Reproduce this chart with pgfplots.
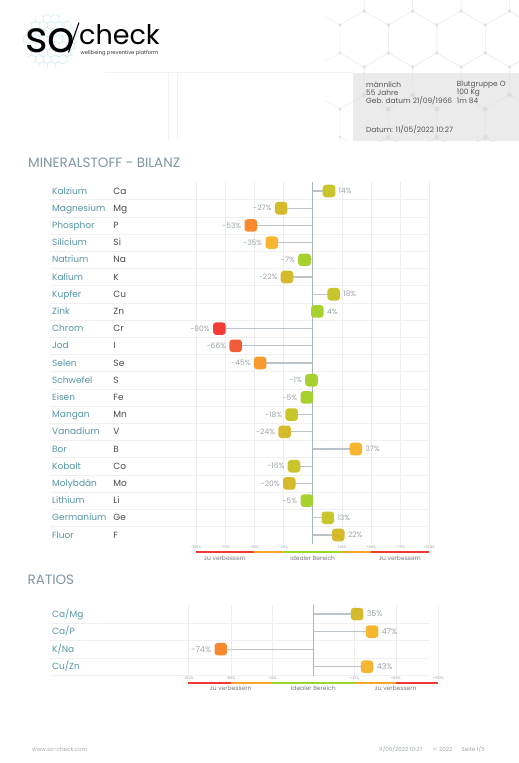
\documentclass[border=0pt]{standalone}
\usepackage{pgfplots}
\pgfplotsset{compat=1.18}
\usepackage{pgfplotstable}
\usepackage{fontspec}
\setmainfont{Poppins}

\definecolor{cteal}{HTML}{5595A4}
\definecolor{csym}{HTML}{4A4A4A}
\definecolor{cpct}{HTML}{9AA4AA}
\definecolor{cgrid}{HTML}{EDEDED}
\definecolor{csep}{HTML}{F0F0F0}
\definecolor{caxis}{HTML}{A9B5BD}
\definecolor{cstem}{HTML}{BAC4CA}
\definecolor{ctitle}{HTML}{7F97A3}
\definecolor{ctick}{HTML}{9A9A9A}
\definecolor{clab}{HTML}{7A7A7A}
\definecolor{cfoot}{HTML}{A0A8AD}
\definecolor{cinfo}{HTML}{555555}
\definecolor{mG}{HTML}{A6D12E}
\definecolor{mY}{HTML}{C9C62D}
\definecolor{mM}{HTML}{D4BB2B}
\definecolor{mA}{HTML}{F6B631}
\definecolor{mP}{HTML}{F89A2E}
\definecolor{mO}{HTML}{F7892E}
\definecolor{mR}{HTML}{F35A38}
\definecolor{mX}{HTML}{F23C35}
\definecolor{bR}{HTML}{F03A33}
\definecolor{bO}{HTML}{F6A52A}
\definecolor{bG}{HTML}{9ED42E}
\definecolor{hexl}{HTML}{F0F0F0}
\definecolor{hexd}{HTML}{E0E0E0}
\definecolor{boxg}{HTML}{EBEBEB}
\definecolor{logohex}{HTML}{D6EEF4}

\pgfdeclareplotmark{rsq}{%
  \pgfsetcornersarced{\pgfqpoint{3.2pt}{3.2pt}}%
  \pgfpathmoveto{\pgfqpoint{0pt}{-\pgfplotmarksize}}%
  \pgfpathlineto{\pgfqpoint{\pgfplotmarksize}{-\pgfplotmarksize}}%
  \pgfpathlineto{\pgfqpoint{\pgfplotmarksize}{\pgfplotmarksize}}%
  \pgfpathlineto{\pgfqpoint{-\pgfplotmarksize}{\pgfplotmarksize}}%
  \pgfpathlineto{\pgfqpoint{-\pgfplotmarksize}{-\pgfplotmarksize}}%
  \pgfpathclose
  \pgfusepath{fill}%
}

\pgfplotstableread{
y name sym v c
20 Kalzium Ca 14 Y
19 Magnesium Mg -27 M
18 Phosphor P -53 O
17 Silicium Si -35 A
16 Natrium Na -7 G
15 Kalium K -22 M
14 Kupfer Cu 18 Y
13 Zink Zn 4 G
12 Chrom Cr -80 X
11 Jod I -66 R
10 Selen Se -45 P
9 Schwefel S -1 G
8 Eisen Fe -5 G
7 Mangan Mn -18 Y
6 Vanadium V -24 M
5 Bor B 37 A
4 Kobalt Co -16 Y
3 Molybdän Mo -20 M
2 Lithium Li -5 G
1 Germanium Ge 13 Y
0 Fluor F 22 M
}\mainT

\pgfplotstableread{
y name v c
3 Ca/Mg 35 M
2 Ca/P 47 A
1 K/Na -74 O
0 Cu/Zn 43 A
}\ratT

\pgfplotsset{
  mcolors/.style={
    scatter, only marks, mark=rsq, mark size=6.3pt,
    point meta=explicit symbolic,
    scatter/@pre marker code/.code={\pgfscope\pgfsetfillcolor{m\pgfplotspointmeta}},
    scatter/@post marker code/.code={\endpgfscope}},
}

\begin{document}
\begin{tikzpicture}[x=1pt,y=1pt]
\path[use as bounding box, fill=white] (0,0) rectangle (519,-763);

% background honeycomb
\begin{scope}
\clip (325,0) rectangle (519,-141);
\foreach \cx/\cy in {364/-39, 412.5/-39, 461/-39, 509.5/-39, 340/-81, 388.25/-81, 436.75/-81, 485.25/-81, 533.5/-81, 340/3, 388.25/3, 436.75/3, 485.25/3, 533.5/3, 364/-123, 412.5/-123, 461/-123, 509.5/-123}{
  \draw[hexl, line width=0.5pt] (\cx,\cy) ++(90:28) -- ++(-30:28) -- ++(-90:28) -- ++(-150:28) -- ++(150:28) -- ++(90:28) -- cycle;
  \foreach \a in {90,30,-30,-90,-150,150}{\fill[hexd] (\cx,\cy) ++(\a:28) circle (1.5);}
}
\end{scope}
% info box
\fill[boxg] (353,-72.7) rectangle (519,-141);
\begin{scope}
\clip (353,-72.7) rectangle (519,-141);
\foreach \cx/\cy in {364/-39, 412.5/-39, 461/-39, 509.5/-39, 340/-81, 388.25/-81, 436.75/-81, 485.25/-81, 533.5/-81, 364/-123, 412.5/-123, 461/-123, 509.5/-123}{
  \draw[black!10, line width=0.5pt] (\cx,\cy) ++(90:28) -- ++(-30:28) -- ++(-90:28) -- ++(-150:28) -- ++(150:28) -- ++(90:28) -- cycle;
  \foreach \a in {90,30,-30,-90,-150,150}{\fill[black!13] (\cx,\cy) ++(\a:28) circle (2.2);}
}
\end{scope}
\draw[black!5, line width=0.5pt] (105,-72.7) -- (353,-72.7);
\draw[black!5, line width=0.5pt] (168,-72.7) -- (168,-141);
\draw[black!5, line width=0.5pt] (177,-72.7) -- (177,-141);

\begin{scope}[every node/.style={anchor=west, inner sep=0pt, font=\fontsize{7.4}{8}\selectfont, text=cinfo}]
\node at (366,-84.3) {männlich};
\node at (366,-92.7) {55 Jahre};
\node at (366,-100.9) {Geb. datum 21/09/1966};
\node at (366,-129.7) {Datum: 11/05/2022 10:27};
\node at (456.7,-84.3) {Blutgruppe O};
\node at (456.7,-92.7) {100 Kg};
\node at (456.7,-100.9) {1m 84};
\end{scope}

% logo
\begin{scope}
\clip (50,-41) circle (27);
\foreach \r in {0,...,9}{\foreach \c in {0,...,8}{
  \pgfmathsetmacro\hx{20+\c*7.8+mod(\r,2)*3.9}
  \pgfmathsetmacro\hy{-12-\r*6.75}
  \draw[logohex, line width=0.4pt] (\hx,\hy) ++(90:4.5) -- ++(-30:4.5) -- ++(-90:4.5) -- ++(-150:4.5) -- ++(150:4.5) -- ++(90:4.5) -- cycle;
}}
\end{scope}
\node[anchor=base west, inner sep=0pt, font=\fontsize{43}{43}\selectfont] at (25,-52.5) {so};
\draw[black, line width=1.1pt] (68.5,-52.5) -- (79,-22.5);
\node[anchor=base west, inner sep=0pt, font=\fontsize{27}{27}\selectfont] at (79,-44.3) {check};
\node[anchor=west, inner sep=0pt, font=\fontsize{5.2}{6}\selectfont, text=black!80] at (80.5,-53) {wellbeing preventive platform};

% titles
\node[anchor=west, inner sep=0pt, font=\fontsize{13.5}{14}\selectfont, text=ctitle] at (28,-163) {MINERALSTOFF - BILANZ};
\node[anchor=west, inner sep=0pt, font=\fontsize{13.5}{14}\selectfont, text=ctitle] at (27.5,-580) {RATIOS};

% footer
\begin{scope}[every node/.style={anchor=west, inner sep=0pt, font=\fontsize{5.6}{6}\selectfont, text=cfoot}]
\node at (32,-749.3) {www.so-check.com};
\node at (379,-749.3) {11/05/2022 10:27};
\node at (433,-749.3) {© 2022};
\node at (461.5,-749.3) {Seite 1/5};
\end{scope}

% ===== main chart =====
\begin{axis}[
  at={(196pt,-182.4pt)}, anchor=north west,
  scale only axis, width=233.33pt, height=361.2pt,
  xmin=-100, xmax=100, ymin=-0.5, ymax=20.5,
  clip=false,
  axis line style={draw=none},
  major tick length=0pt,
  xtick={-100,-75,-50,-25,0,25,50,75,100},
  xticklabels={-100\%,-75\%,-50\%,-25\%,{},+25\%,+50\%,+75\%,+100\%},
  xticklabel style={font=\fontsize{3.6}{4}\selectfont, text=ctick, anchor=center, inner sep=0pt, yshift=-3.7pt},
  xmajorgrids, grid style={cgrid, line width=0.6pt},
  ytick={0,...,20},
  yticklabel={\pgfmathtruncatemacro\rr{20-\ticknum}\pgfplotstablegetelem{\rr}{name}\of\mainT\makebox[61.3pt][l]{\textcolor{cteal}{\pgfplotsretval}}\pgfplotstablegetelem{\rr}{sym}\of\mainT\textcolor{csym}{\pgfplotsretval}},
  yticklabel style={anchor=base west, inner sep=0pt, xshift=-144pt, yshift=-3.1pt, font=\fontsize{9}{10}\selectfont},
]
\pgfplotsinvokeforeach{0,...,19}{\draw[csep, line width=0.6pt] (axis cs:-225.1,#1+0.5) -- (axis cs:100,#1+0.5);}
\draw[caxis, line width=1.2pt] (axis cs:0,-0.5) -- (axis cs:0,20.5);
\addplot[xcomb, cstem, line width=1.2pt] table[x=v, y=y]{\mainT};
\addplot[mcolors] table[x=v, y=y, meta=c]{\mainT};
\addplot[only marks, mark=none, point meta=x,
  nodes near coords={\pgfmathprintnumber[assume math mode=true]{\pgfplotspointmeta}\%},
  nodes near coords align=horizontal,
  every node near coord/.append style={font=\fontsize{7.5}{8}\selectfont, text=cpct, inner xsep=9.5pt, inner ysep=0pt}]
  table[x=v, y=y]{\mainT};
\addplot[bR, line width=2pt] coordinates {(-100,-1) (-50,-1)};
\addplot[bO, line width=2pt] coordinates {(-50,-1) (-25,-1)};
\addplot[bG, line width=2pt] coordinates {(-25,-1) (25,-1)};
\addplot[bO, line width=2pt] coordinates {(25,-1) (50,-1)};
\addplot[bR, line width=2pt] coordinates {(50,-1) (100,-1)};
\node[font=\fontsize{6}{7}\selectfont, text=clab] at (axis cs:-75,-1.36) {zu verbessern};
\node[font=\fontsize{6}{7}\selectfont, text=clab] at (axis cs:0,-1.36) {idealer Bereich};
\node[font=\fontsize{6}{7}\selectfont, text=clab] at (axis cs:75,-1.36) {zu verbessern};
\end{axis}

% ===== ratios =====
\begin{axis}[
  at={(188.3pt,-605.3pt)}, anchor=north west,
  scale only axis, width=250pt, height=70.2pt,
  xmin=-100, xmax=100, ymin=-0.5, ymax=3.5,
  clip=false,
  axis line style={draw=none},
  major tick length=0pt,
  xtick={-100,-66,-33,0,33,66,100},
  xticklabels={-100\%,-66\%,-33\%,{},+33\%,+66\%,+100\%},
  xticklabel style={font=\fontsize{3.6}{4}\selectfont, text=ctick, anchor=center, inner sep=0pt, yshift=-2.6pt},
  xmajorgrids, grid style={cgrid, line width=0.6pt},
  ytick={0,...,3},
  yticklabel={\pgfmathtruncatemacro\rr{3-\ticknum}\pgfplotstablegetelem{\rr}{name}\of\ratT\textcolor{cteal}{\pgfplotsretval}},
  yticklabel style={anchor=base west, inner sep=0pt, xshift=-136.3pt, yshift=-3.1pt, font=\fontsize{9}{10}\selectfont},
]
\pgfplotsinvokeforeach{0,...,3}{\draw[csep, line width=0.6pt] (axis cs:-210.6,#1-0.5) -- (axis cs:93.4,#1-0.5);}
\draw[caxis, line width=1.2pt] (axis cs:0,-0.5) -- (axis cs:0,3.5);
\addplot[xcomb, cstem, line width=1.2pt] table[x=v, y=y]{\ratT};
\addplot[mcolors] table[x=v, y=y, meta=c]{\ratT};
\addplot[only marks, mark=none, point meta=x,
  nodes near coords={\pgfmathprintnumber[assume math mode=true]{\pgfplotspointmeta}\%},
  nodes near coords align=horizontal,
  every node near coord/.append style={font=\fontsize{8}{9}\selectfont, text=cpct, inner xsep=9.5pt, inner ysep=0pt}]
  table[x=v, y=y]{\ratT};
\addplot[bR, line width=2pt] coordinates {(-100,-0.91) (-66,-0.91)};
\addplot[bO, line width=2pt] coordinates {(-66,-0.91) (-33,-0.91)};
\addplot[bG, line width=2pt] coordinates {(-33,-0.91) (33,-0.91)};
\addplot[bO, line width=2pt] coordinates {(33,-0.91) (66,-0.91)};
\addplot[bR, line width=2pt] coordinates {(66,-0.91) (100,-0.91)};
\node[font=\fontsize{6}{7}\selectfont, text=clab] at (axis cs:-66,-1.23) {zu verbessern};
\node[font=\fontsize{6}{7}\selectfont, text=clab] at (axis cs:0,-1.23) {idealer Bereich};
\node[font=\fontsize{6}{7}\selectfont, text=clab] at (axis cs:66,-1.23) {zu verbessern};
\end{axis}
\end{tikzpicture}
\end{document}
